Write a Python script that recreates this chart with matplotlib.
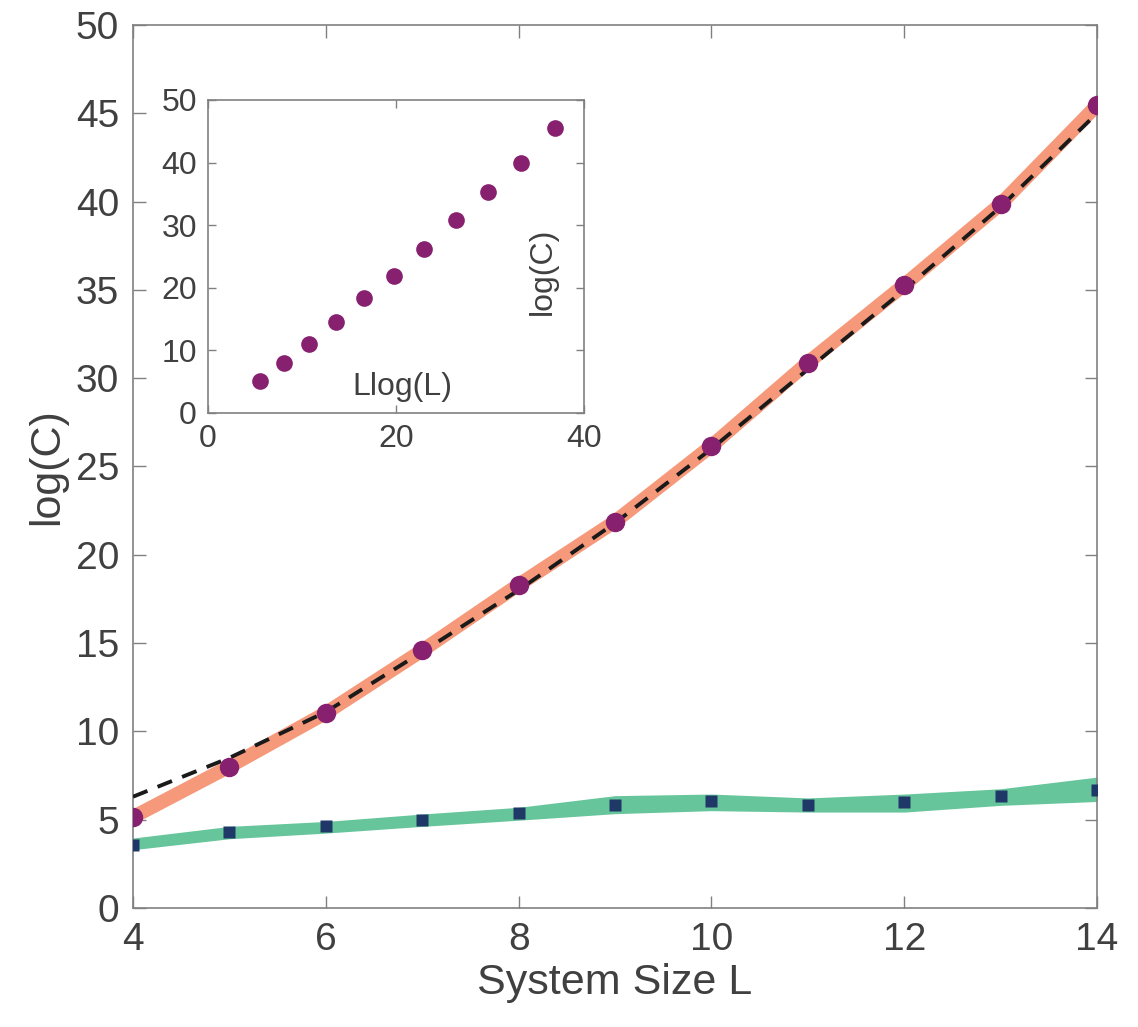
import numpy as np
import matplotlib
matplotlib.use("Agg")
import matplotlib.pyplot as plt

plt.rcParams['font.family'] = ['Liberation Sans', 'DejaVu Sans']

# ---- data ----
L = [4, 5, 6, 7, 8, 9, 10, 11, 12, 13, 14]
logC = [5.15, 8.01, 11.04, 14.58, 18.30, 21.88, 26.16, 30.88, 35.28, 39.86, 45.45]
fit_logC = [6.3, 8.5, 11.1, 14.5, 18.0, 21.8, 26.0, 30.5, 35.0, 39.7, 45.0]
logC_low = [3.58, 4.28, 4.62, 5.00, 5.38, 5.81, 6.03, 5.81, 5.98, 6.32, 6.70]
band_low = [3.30, 3.92, 4.24, 4.62, 4.97, 5.34, 5.51, 5.43, 5.43, 5.81, 6.03]
band_high = [3.96, 4.62, 4.90, 5.32, 5.70, 6.36, 6.45, 6.23, 6.45, 6.75, 7.41]
xticks_main = [4, 6, 8, 10, 12, 14]
yticks_main = [0, 5, 10, 15, 20, 25, 30, 35, 40, 45, 50]
xticks_inset = [0, 20, 40]
yticks_inset = [0, 10, 20, 30, 40, 50]

purple = '#86206F'
orange = '#F5997A'
green = '#66C59A'
navy = '#1F3868'
txt = '#404040'
spine = '#808080'

fig = plt.figure(figsize=(11.38, 10.27), dpi=100)
ax = fig.add_axes([0.1169, 0.1159, 0.8471, 0.8598])

ax.fill_between(L, band_low, band_high, color=green, lw=0, zorder=1)
ax.plot(L, logC, color=orange, lw=10, solid_capstyle='butt', zorder=2)
ax.plot(L, fit_logC, color='#1a1a1a', lw=2.8, dashes=(4.0, 2.8), zorder=3)
ax.plot(L, logC, 'o', color=purple, ms=14, mec='none', zorder=4)
ax.plot(L, logC_low, 's', color=navy, ms=8, mec='none', zorder=4)

ax.set_xlim(4, 14)
ax.set_ylim(0, 50)
ax.set_xticks(xticks_main)
ax.set_yticks(yticks_main)
ax.tick_params(direction='in', length=9, width=1, colors=spine, labelcolor=txt,
               labelsize=28, top=True, right=True, pad=10)
for s in ax.spines.values():
    s.set_color(spine)
    s.set_linewidth(1.2)
ax.set_xlabel('System Size L', fontsize=31, color=txt, labelpad=4)
ax.set_ylabel('log(C)', fontsize=31, color=txt, labelpad=6)

# ---- inset ----
axi = fig.add_axes([0.1828, 0.5979, 0.3304, 0.3048])
LlogL = [l * np.log(l) for l in L]
axi.plot(LlogL, logC, 'o', color=purple, ms=12, mec='none')
axi.set_xlim(0, 40)
axi.set_ylim(0, 50)
axi.set_xticks(xticks_inset)
axi.set_yticks(yticks_inset)
axi.tick_params(direction='in', length=6, width=1, colors=spine, labelcolor=txt,
                labelsize=23, top=True, right=True, pad=8)
for s in axi.spines.values():
    s.set_color(spine)
    s.set_linewidth(1.2)
axi.text(20.7, 4.2, 'Llog(L)', fontsize=23, color=txt, ha='center', va='center')
axi.text(35.6, 22.6, 'log(C)', fontsize=23, color=txt, ha='center', va='center',
         rotation=90)

fig.savefig('out.png', dpi=100)
